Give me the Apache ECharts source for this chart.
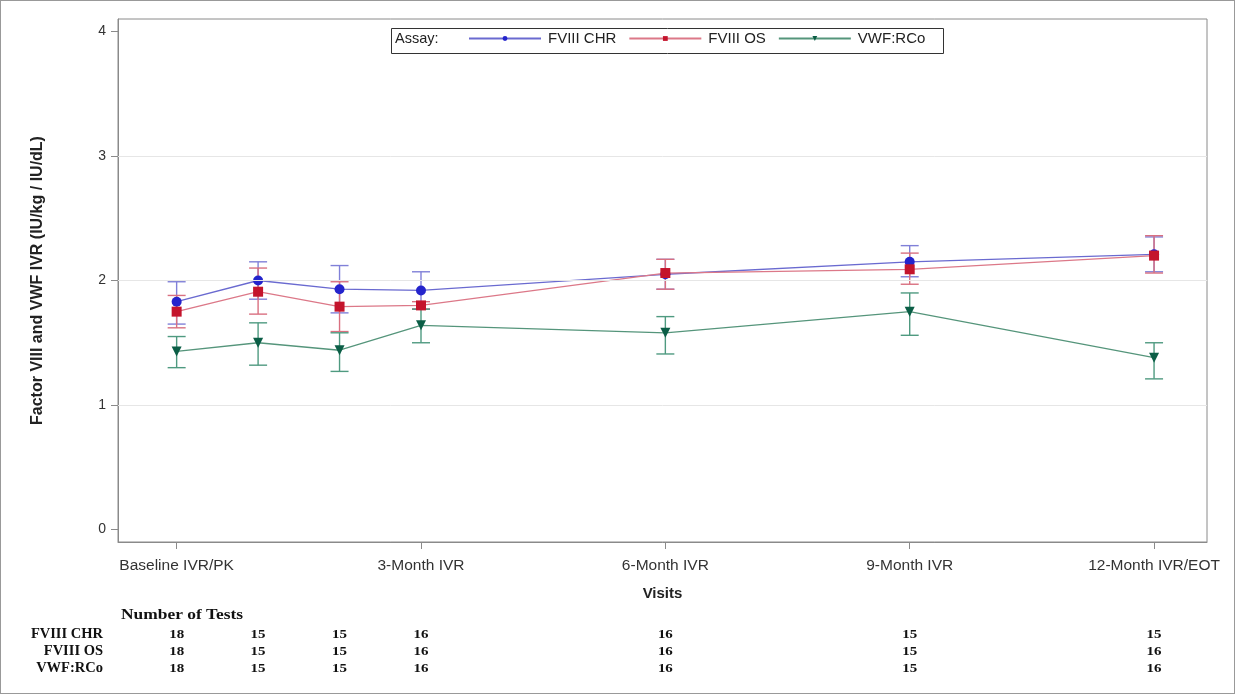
<!DOCTYPE html>
<html>
<head>
<meta charset="utf-8">
<script src="https://cdn.jsdelivr.net/npm/echarts@6/dist/echarts.min.js"></script>
<style>
html,body{margin:0;padding:0;background:#fff;}
#c{width:1235px;height:694px;box-sizing:border-box;border:1px solid #999;}
</style>
</head>
<body>
<div id="c"></div>
<script>
// ---- data ----
var visitMonths = [0, 1, 2, 3, 6, 9, 12];
var tickMonths = [0, 3, 6, 9, 12];
var tickLabels = {0: 'Baseline IVR/PK', 3: '3-Month IVR', 6: '6-Month IVR', 9: '9-Month IVR', 12: '12-Month IVR/EOT'};
var seriesNames = ['FVIII CHR', 'FVIII OS', 'VWF:RCo'];

var chrMean  = [1.83, 2.00, 1.93, 1.92, 2.05, 2.15, 2.21];
var chrUpper = [1.99, 2.15, 2.12, 2.07, 2.17, 2.28, 2.35];
var chrLower = [1.65, 1.85, 1.74, 1.77, 1.93, 2.03, 2.07];

var osMean  = [1.75, 1.91, 1.79, 1.80, 2.06, 2.09, 2.20];
var osUpper = [1.88, 2.10, 1.99, 1.83, 2.17, 2.22, 2.36];
var osLower = [1.62, 1.73, 1.59, 1.77, 1.93, 1.97, 2.06];

var vwfMean  = [1.43, 1.50, 1.44, 1.64, 1.58, 1.75, 1.38];
var vwfUpper = [1.55, 1.66, 1.58, 1.77, 1.71, 1.90, 1.50];
var vwfLower = [1.30, 1.32, 1.27, 1.50, 1.41, 1.56, 1.21];

var chrN = [18, 15, 15, 16, 16, 15, 15];
var osN  = [18, 15, 15, 16, 16, 15, 16];
var vwfN = [18, 15, 15, 16, 16, 15, 16];

var yTicks = [0, 1, 2, 3, 4];
var gridLevels = [1, 2, 3];

// ---- build ----
var chart = echarts.init(document.getElementById('c'), null, {renderer: 'canvas'});

var lineColors = ['#6a6ad0', '#dc7888', '#55957b'];
var markColors = ['#2424cc', '#c4142c', '#0b5e46'];
var barColors = ['#8080d8', '#d97080', '#4f9a80'];
var axisGrey = '#8a8a8a';

function pts(means) { return visitMonths.map(function (m, i) { return [m, means[i]]; }); }
function bars(lo, hi) { return visitMonths.map(function (m, i) { return [m, lo[i], hi[i]]; }); }

function errSeries(name, lo, hi, color) {
  return {
    type: 'custom', name: name + ' err', xAxisIndex: 0, yAxisIndex: 0, silent: true, z: 2,
    data: bars(lo, hi),
    renderItem: function (params, api) {
      var x = api.value(0);
      var a = api.coord([x, api.value(1)]);
      var b = api.coord([x, api.value(2)]);
      var w = 9;
      var st = {stroke: color, lineWidth: 1.4};
      return {type: 'group', children: [
        {type: 'line', shape: {x1: a[0], y1: a[1], x2: b[0], y2: b[1]}, style: st},
        {type: 'line', shape: {x1: a[0] - w, y1: a[1], x2: a[0] + w, y2: a[1]}, style: st},
        {type: 'line', shape: {x1: b[0] - w, y1: b[1], x2: b[0] + w, y2: b[1]}, style: st}
      ]};
    }
  };
}

function lineSeries(name, means, i, symbol, size, rot) {
  return {
    type: 'line', name: name, data: pts(means), xAxisIndex: 0, yAxisIndex: 0, z: 3,
    symbol: symbol, symbolSize: size, symbolRotate: rot || 0, showAllSymbol: true,
    lineStyle: {color: lineColors[i], width: 1.3},
    itemStyle: {color: markColors[i]},
    animation: false
  };
}

function countSeries(counts, row) {
  return {
    type: 'custom', xAxisIndex: 1, yAxisIndex: 1, silent: true,
    data: visitMonths.map(function (m, i) { return [m, row, counts[i]]; }),
    renderItem: function (params, api) {
      var p = api.coord([api.value(0), api.value(1)]);
      return {type: 'text', x: p[0], y: p[1], scaleX: 1.15,
        style: {text: String(api.value(2)), font: 'bold 13px "Liberation Serif"', fill: '#111',
          align: 'center', verticalAlign: 'middle'}};
    }
  };
}

var gridSeries = {
  type: 'line', xAxisIndex: 0, yAxisIndex: 0, data: [], silent: true,
  markLine: {silent: true, symbol: 'none', label: {show: false},
    lineStyle: {color: '#e6e6e6', type: 'solid', width: 1},
    data: gridLevels.map(function (v) { return {yAxis: v}; })}
};

var option = {
  animation: false,
  backgroundColor: '#fff',
  grid: [
    {left: 117, right: 27, top: 18, bottom: 151, containLabel: false, outerBoundsMode: 'none',
      show: true, borderColor: axisGrey, borderWidth: 1},
    {left: 117, right: 27, top: 625, height: 51, containLabel: false, outerBoundsMode: 'none'}
  ],
  xAxis: [
    {type: 'value', gridIndex: 0, min: -0.72, max: 12.65,
      name: 'Visits', nameLocation: 'middle', nameGap: 44,
      nameTextStyle: {fontFamily: 'Liberation Sans', fontWeight: 'bold', fontSize: 15, color: '#222'},
      axisLine: {show: true, onZero: false, lineStyle: {color: axisGrey}},
      axisTick: {show: true, length: 7, customValues: tickMonths, lineStyle: {color: axisGrey}},
      axisLabel: {customValues: tickMonths, margin: 16, fontFamily: 'Liberation Sans', fontSize: 15.5, color: '#333',
        formatter: function (v) { return tickLabels[v] || ''; }},
      splitLine: {show: false}},
    {type: 'value', gridIndex: 1, min: -0.72, max: 12.65, show: false}
  ],
  yAxis: [
    {type: 'value', gridIndex: 0, min: -0.1, max: 4.1,
      name: 'Factor VIII and VWF IVR (IU/kg / IU/dL)', nameLocation: 'middle', nameGap: 72,
      nameTextStyle: {fontFamily: 'Liberation Sans', fontWeight: 'bold', fontSize: 16, color: '#222'},
      axisLine: {show: true, onZero: false, lineStyle: {color: axisGrey}},
      axisTick: {show: true, length: 7, customValues: yTicks, lineStyle: {color: axisGrey}},
      axisLabel: {customValues: yTicks, margin: 12, fontFamily: 'Liberation Sans', fontSize: 14, color: '#333'},
      splitLine: {show: false}},
    {type: 'category', gridIndex: 1, inverse: true, data: seriesNames,
      axisLine: {show: false}, axisTick: {show: false},
      axisLabel: {interval: 0, hideOverlap: false, margin: 15, fontFamily: 'Liberation Serif', fontWeight: 'bold',
        fontSize: 14.5, color: '#111', align: 'right'}}
  ],
  legend: {
    data: seriesNames, left: 462, top: 25, itemWidth: 72, itemHeight: 6, itemGap: 12,
    textStyle: {fontFamily: 'Liberation Sans', fontSize: 15, color: '#222', padding: [0, 0, 0, 2]},
    selectedMode: false
  },
  graphic: [
    {type: 'rect', left: 388, top: 25, shape: {width: 552, height: 25},
      style: {fill: 'none', stroke: '#333', lineWidth: 1}},
    {type: 'text', left: 394, top: 30, style: {text: 'Assay:', font: '14.5px "Liberation Sans"', fill: '#222'}},
    {type: 'text', x: 120, y: 607, scaleX: 1.2, style: {text: 'Number of Tests', font: 'bold 14.5px "Liberation Serif"', fill: '#111'}}
  ],
  series: [
    gridSeries,
    errSeries('FVIII CHR', chrLower, chrUpper, barColors[0]),
    errSeries('FVIII OS', osLower, osUpper, barColors[1]),
    errSeries('VWF:RCo', vwfLower, vwfUpper, barColors[2]),
    lineSeries('FVIII CHR', chrMean, 0, 'circle', 10),
    lineSeries('FVIII OS', osMean, 1, 'rect', 10),
    lineSeries('VWF:RCo', vwfMean, 2, 'triangle', 10, 180),
    countSeries(chrN, 'FVIII CHR'),
    countSeries(osN, 'FVIII OS'),
    countSeries(vwfN, 'VWF:RCo')
  ]
};
chart.setOption(option);
</script>
</body>
</html>
